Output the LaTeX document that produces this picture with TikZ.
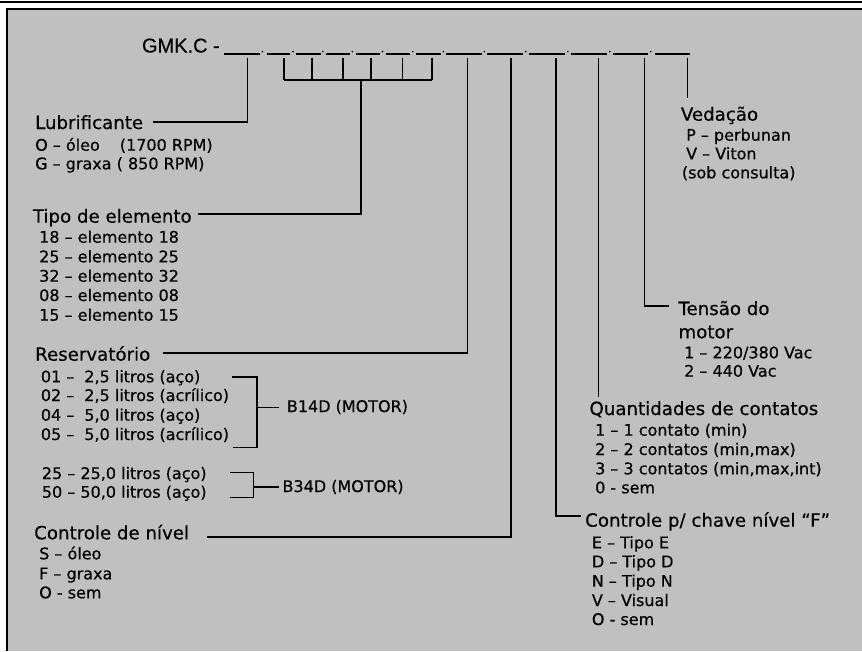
\documentclass[tikz,border=0pt]{standalone}
\usepackage{fontspec}
\setmainfont{DejaVu Sans}[FakeBold=0.4]
\newfontfamily\hdrfont{Liberation Sans}[FakeBold=0.4]
\definecolor{panel}{RGB}{192,192,192}
\tikzset{
  hd/.style={anchor=base west,inner sep=0pt,font=\fontsize{18.2}{22}\selectfont},
  it/.style={anchor=base west,inner sep=0pt,font=\fontsize{16}{19}\selectfont},
  conn/.style={line width=1.6pt},
  blank/.style={line width=1.3pt},
  dotm/.style={fill=black,inner sep=0pt,minimum size=1.8pt,circle}
}
\begin{document}
\begin{tikzpicture}[x=1pt,y=-1pt]
\useasboundingbox (0,0) rectangle (862,651);
% frame
\fill[white] (0,0) rectangle (862,651);
\fill[panel] (7,9) rectangle (862,651);
\draw[line width=2.5pt] (0,2) -- (862,2);
\draw[line width=2pt] (7,651) -- (7,9) -- (862,9);
% header
\node[anchor=base west,inner sep=0pt,font=\hdrfont\fontsize{20}{24}\selectfont] (gmk) at (141.8,52.5) {GMK.C -};
% blanks
\foreach \a/\b in {224.1/259.7,266.6/290.3,296/321,326/349.6,356/380,386/410,415.8/440.7,446.4/481.7,487.4/523,528.7/565,570.8/607,612.9/648,655/689.5}
  \draw[blank] (\a,54) -- (\b,54);
\foreach \d in {262.4,293,322.8,352.3,382.5,412.8,443.4,484.3,525.7,567.8,609.9,650.7}
  \node[dotm] at (\d,51.6) {};
% tap coordinates
\coordinate (tl) at (247.4,57.5);
\coordinate (tr) at (467.5,57.5);
\coordinate (tc) at (511,57.5);
\coordinate (tf) at (556,57.5);
\coordinate (tq) at (598.3,57.5);
\coordinate (tt) at (644.3,57.5);
\coordinate (tv) at (687.5,57.5);
\foreach \n/\x in {1/284,2/312,3/342.7,4/370.7,5/402.4,6/432} {
  \coordinate (s\n) at (\x,57.5);
  \coordinate (b\n) at (\x,80);
}
\coordinate (bm) at (361,80);
% headings and items
\node[hd] (lub) at (35,129) {Lubrificante};
\node[it] (lub1) at (35,150.7) {O – óleo\hspace{20pt}(1700 RPM)};
\node[it] (lub2) at (35,169.3) {G – graxa ( 850 RPM)};

\node[hd] (tip) at (32.7,222.7) {Tipo de elemento};
\node[it] (tip1) at (39,242.7) {18 – elemento 18};
\node[it] (tip2) at (39,262.3) {25 – elemento 25};
\node[it] (tip3) at (39,281.7) {32 – elemento 32};
\node[it] (tip4) at (39,301) {08 – elemento 08};
\node[it] (tip5) at (39,320.7) {15 – elemento 15};

\node[hd] (res) at (35,360.7) {Reservatório};
\node[it] (res1) at (40.7,382.3) {01 –\hspace{10pt}2,5 litros (aço)};
\node[it] (res2) at (40.7,401) {02 –\hspace{10pt}2,5 litros (acrílico)};
\node[it] (res3) at (40.7,420.7) {04 –\hspace{10pt}5,0 litros (aço)};
\node[it] (res4) at (40.7,440) {05 –\hspace{10pt}5,0 litros (acrílico)};
\node[it] (b14) at (286.7,412) {B14D (MOTOR)};
\node[it] (res5) at (41.7,479) {25 – 25,0 litros (aço)};
\node[it] (res6) at (41.7,497.7) {50 – 50,0 litros (aço)};
\node[it] (b34) at (282.3,492) {B34D (MOTOR)};

\node[hd] (cn) at (34,539.3) {Controle de nível};
\node[it] (cn1) at (39,559.3) {S – óleo};
\node[it] (cn2) at (39,579.3) {F – graxa};
\node[it] (cn3) at (39,598.3) {O - sem};

\node[hd] (ved) at (680.7,120.7) {Vedação};
\node[it] (ved1) at (686,140.7) {P – perbunan};
\node[it] (ved2) at (686,159.3) {V – Viton};
\node[it] (ved3) at (681.7,178.3) {(sob consulta)};

\node[hd] (ten) at (678.3,315) {Tensão do};
\node[hd] (ten0) at (678.3,338.3) {motor};
\node[it] (ten1) at (684,358.3) {1 – 220/380 Vac};
\node[it] (ten2) at (684,376.7) {2 – 440 Vac};

\node[hd] (qua) at (589.3,415) {Quantidades de contatos};
\node[it] (qua1) at (595,435.7) {1 – 1 contato (min)};
\node[it] (qua2) at (595,455) {2 – 2 contatos (min,max)};
\node[it] (qua3) at (595,474.3) {3 – 3 contatos (min,max,int)};
\node[it] (qua4) at (595,493.3) {0 - sem};

\node[hd] (cf) at (585,526.7) {Controle p/ chave nível “F”};
\node[it] (cf1) at (591.7,548.3) {E – Tipo E};
\node[it] (cf2) at (591.7,567.3) {D – Tipo D};
\node[it] (cf3) at (591.7,586.7) {N – Tipo N};
\node[it] (cf4) at (591.7,606) {V – Visual};
\node[it] (cf5) at (591.7,625) {O - sem};

% connector ends
\coordinate (el) at (153,121.7);
\coordinate (et) at (198,214);
\coordinate (er) at (163,352.7);
\coordinate (ec) at (206.7,536.7);
\coordinate (ef) at (580.7,516);
\coordinate (eq) at (598.3,397.3);
\coordinate (ett) at (669.3,306);
\coordinate (ev) at (687.5,98);
% connectors
\draw[conn] (tl) |- (el);
\foreach \n in {1,...,6} \draw[conn] (s\n) -- (b\n);
\draw[conn] (b1) -- (b6);
\draw[conn] (bm) |- (et);
\draw[conn] (tr) |- (er);
\draw[conn] (tc) |- (ec);
\draw[conn] (tf) |- (ef);
\draw[conn] (tq) -- (eq);
\draw[conn] (tt) |- (ett);
\draw[conn] (tv) -- (ev);
% brackets
\coordinate (k1a) at (231.7,376.7);
\coordinate (k1b) at (256.7,376.7);
\coordinate (k1c) at (256.7,447.3);
\coordinate (k1d) at (232.7,447.3);
\coordinate (k1m) at (256.7,407.5);
\coordinate (k1e) at (279.3,407.5);
\draw[conn] (k1a) -- (k1b) -- (k1c) -- (k1d);
\draw[conn] (k1m) -- (k1e);
\coordinate (k2a) at (230,472.5);
\coordinate (k2b) at (253.3,472.5);
\coordinate (k2c) at (253.3,497.3);
\coordinate (k2d) at (230,497.3);
\coordinate (k2m) at (253.3,486.7);
\coordinate (k2e) at (279,486.7);
\draw[conn] (k2a) -- (k2b) -- (k2c) -- (k2d);
\draw[conn] (k2m) -- (k2e);
\end{tikzpicture}
\end{document}
